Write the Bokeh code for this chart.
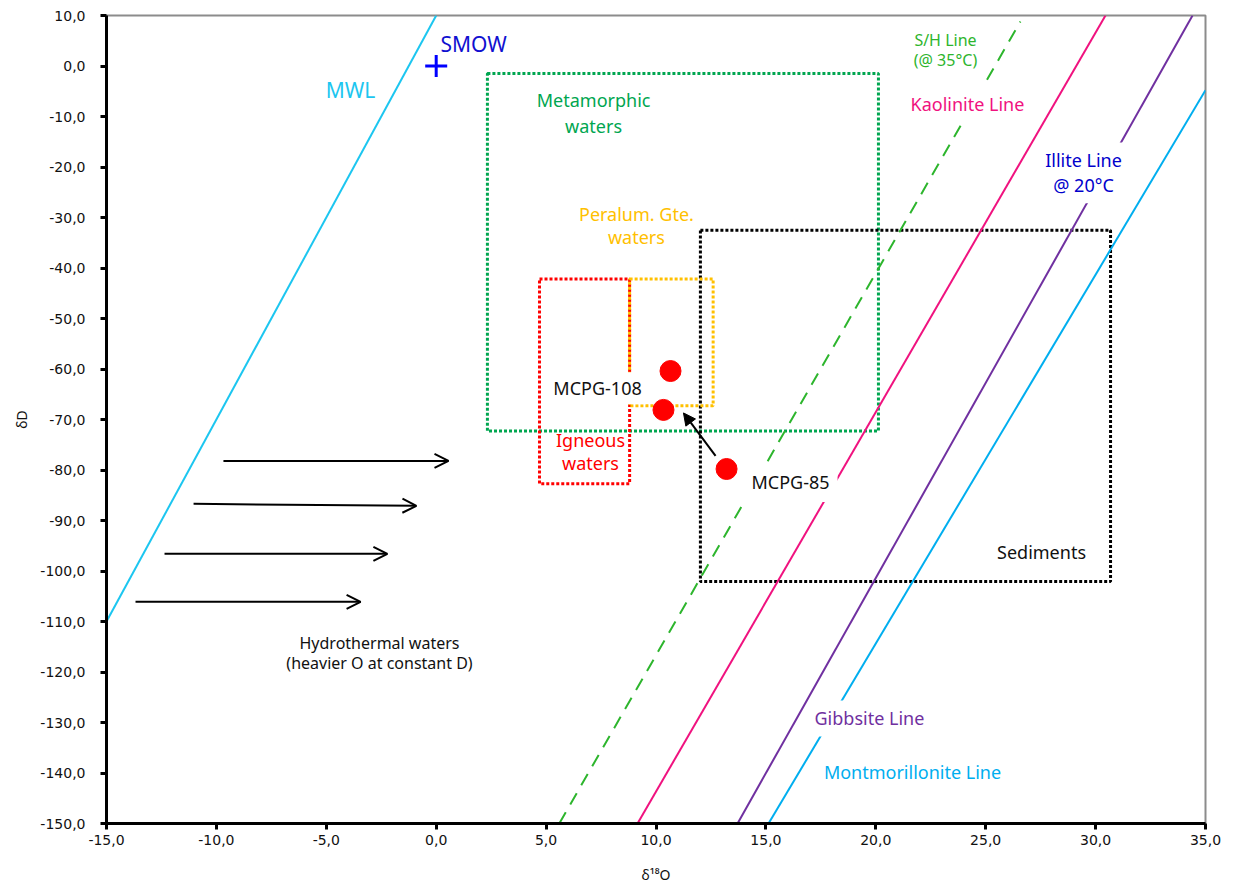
from bokeh.plotting import figure
from bokeh.models import Range1d, Label, Arrow, OpenHead, NormalHead, CustomJSTickFormatter, FixedTicker
from bokeh.embed import file_html
from bokeh.resources import INLINE

FONT = "Noto Sans"
TICK_FONT = "DejaVu Sans"

# ---- data ----
x_ticks = [-15, -10, -5, 0, 5, 10, 15, 20, 25, 30, 35]
y_ticks = list(range(-150, 11, 10))

# reference lines (end points)
line_names = ["MWL", "S/H Line", "Kaolinite Line", "Gibbsite Line", "Montmorillonite Line"]
line_x0 = [-15.0, 5.6, 9.16, 13.71, 15.12]
line_y0 = [-110.0, -150.0, -150.0, -150.0, -150.0]
line_x1 = [0.0, 26.58, 30.45, 34.41, 35.0]
line_y1 = [10.0, 8.8, 10.0, 10.0, -4.8]

# water fields (boxes)
box_names = ["Metamorphic", "Sediments", "Igneous", "Peraluminous"]
box_left = [2.33, 12.02, 4.7, 8.8]
box_right = [20.12, 30.68, 8.8, 12.6]
box_bottom = [-72.3, -102.1, -82.7, -67.3]
box_top = [-1.5, -32.5, -42.2, -42.2]

# samples
sample_names = ["MCPG-108a", "MCPG-108b", "MCPG-85"]
sample_x = [10.66, 10.34, 13.21]
sample_y = [-60.4, -68.1, -79.8]

# SMOW
smow_x = [0.0]
smow_y = [0.0]

# hydrothermal arrows
hyd_x0 = [-9.68, -11.04, -12.36, -13.68]
hyd_x1 = [0.56, -0.9, -2.22, -3.44]
hyd_y0 = [-78.2, -86.7, -96.6, -106.1]
hyd_y1 = [-78.2, -87.1, -96.6, -106.1]

# MCPG-85 arrow
mc_x0, mc_y0, mc_x1, mc_y1 = 12.71, -77.2, 11.25, -68.7

# labels
lab_text = ["MWL", "SMOW", "Metamorphic", "waters", "S/H Line", "(@ 35°C)",
            "Kaolinite Line", "Illite Line", "@ 20°C", "Peralum. Gte.", "waters",
            "MCPG-108", "Igneous", "waters", "MCPG-85", "Sediments",
            "Hydrothermal waters", "(heavier O at constant D)",
            "Gibbsite Line", "Montmorillonite Line"]
lab_x = [-3.9, 1.7, 7.16, 7.16, 23.17, 23.17,
         24.17, 29.45, 29.45, 9.11, 9.11,
         7.34, 7.02, 7.02, 16.12, 27.54,
         -2.58, -2.58,
         19.71, 21.67]
lab_y = [-4.8, 4.3, -6.8, -11.8, 5.1, 1.1,
         -7.6, -18.7, -23.6, -29.4, -33.9,
         -63.8, -74.1, -78.6, -82.4, -96.2,
         -114.2, -118.2,
         -129.2, -139.9]

# ---- styling ----
line_colors = ["#1CC6F0", "#2DB52D", "#F0127F", "#7030A0", "#00AEEF"]
line_dashes = ["solid", "13 9", "solid", "solid", "solid"]
box_colors = ["#00A650", "#000000", "#FF0000", "#FFC000"]
lab_colors = ["#1CC6F0", "#1010D0", "#00A650", "#00A650", "#2DB52D", "#2DB52D",
              "#F0127F", "#0000CC", "#0000CC", "#FFC000", "#FFC000",
              "#111111", "#FF0000", "#FF0000", "#111111", "#111111",
              "#111111", "#111111",
              "#7030A0", "#00AEEF"]
lab_sizes = [21, 21, 18, 18, 16, 16,
             18, 18, 18, 18, 18,
             18, 18, 18, 18, 18,
             16, 16,
             18, 18]
lab_bg = [False, False, False, False, False, False,
          True, True, True, False, False,
          True, False, False, True, False,
          False, False,
          True, False]
lab_pad = [0, 0, 0, 0, 0, 0,
           8, 6, 6, 0, 0,
           4, 0, 0, 8, 0,
           0, 0,
           6, 0]

p = figure(width=1225, height=886, output_backend="svg", toolbar_location=None,
           x_range=Range1d(-15, 35), y_range=Range1d(-150, 10),
           min_border_left=106, min_border_right=20, min_border_top=15, min_border_bottom=62)
p.grid.visible = False
p.outline_line_color = "#8C8C8C"
p.outline_line_width = 2
p.background_fill_color = "white"
p.border_fill_color = "white"

fmt = CustomJSTickFormatter(code="return tick.toFixed(1).replace('.', ',');")
for ax, ticks in ((p.xaxis, x_ticks), (p.yaxis, y_ticks)):
    ax.ticker = FixedTicker(ticks=ticks)
    ax.formatter = fmt
    ax.axis_line_color = "black"
    ax.axis_line_width = 3
    ax.major_tick_line_color = "black"
    ax.major_tick_line_width = 3
    ax.major_tick_out = 6
    ax.major_tick_in = 0
    ax.minor_tick_line_color = None
    ax.major_label_text_font = TICK_FONT
    ax.major_label_text_font_size = "14px"
    ax.major_label_text_color = "#111111"
    ax.axis_label_text_font = FONT
    ax.axis_label_text_font_size = "14px"
    ax.axis_label_text_font_style = "normal"
    ax.axis_label_text_color = "#111111"
p.xaxis.axis_label = "δ¹⁸O"
p.yaxis.axis_label = "δD"
p.xaxis.major_label_standoff = 5
p.yaxis.major_label_standoff = 15
p.xaxis.axis_label_standoff = 17
p.yaxis.axis_label_standoff = 6

# water-field boxes
for i in range(len(box_names)):
    p.quad(left=[box_left[i]], right=[box_right[i]], bottom=[box_bottom[i]], top=[box_top[i]],
           fill_color=None, line_color=box_colors[i], line_width=3, line_dash="3 2")

# reference lines
for i in range(len(line_names)):
    p.line([line_x0[i], line_x1[i]], [line_y0[i], line_y1[i]],
           line_color=line_colors[i], line_width=2, line_dash=line_dashes[i])

# SMOW
p.scatter(smow_x, smow_y, marker="cross", size=22, line_color="#0000FF", line_width=3)

# samples
p.scatter(sample_x, sample_y, marker="circle", size=21, fill_color="#FF0000", line_color="#FF0000")

# hydrothermal arrows
for i in range(len(hyd_x0)):
    p.add_layout(Arrow(x_start=hyd_x0[i], y_start=hyd_y0[i], x_end=hyd_x1[i], y_end=hyd_y1[i],
                       line_color="black", line_width=2,
                       end=OpenHead(size=14, line_color="black", line_width=2)))

p.add_layout(Arrow(x_start=mc_x0, y_start=mc_y0, x_end=mc_x1, y_end=mc_y1,
                   line_color="black", line_width=2,
                   end=NormalHead(size=12, fill_color="black", line_color="black")))

for i in range(len(lab_text)):
    kw = {}
    if lab_bg[i]:
        kw = dict(background_fill_color="white", padding=lab_pad[i])
    p.add_layout(Label(x=lab_x[i], y=lab_y[i], text=lab_text[i], text_align="center",
                       text_baseline="middle", text_color=lab_colors[i],
                       text_font=FONT, text_font_size=f"{lab_sizes[i]}px", **kw))

open("out.html", "w").write(file_html(p, INLINE))
